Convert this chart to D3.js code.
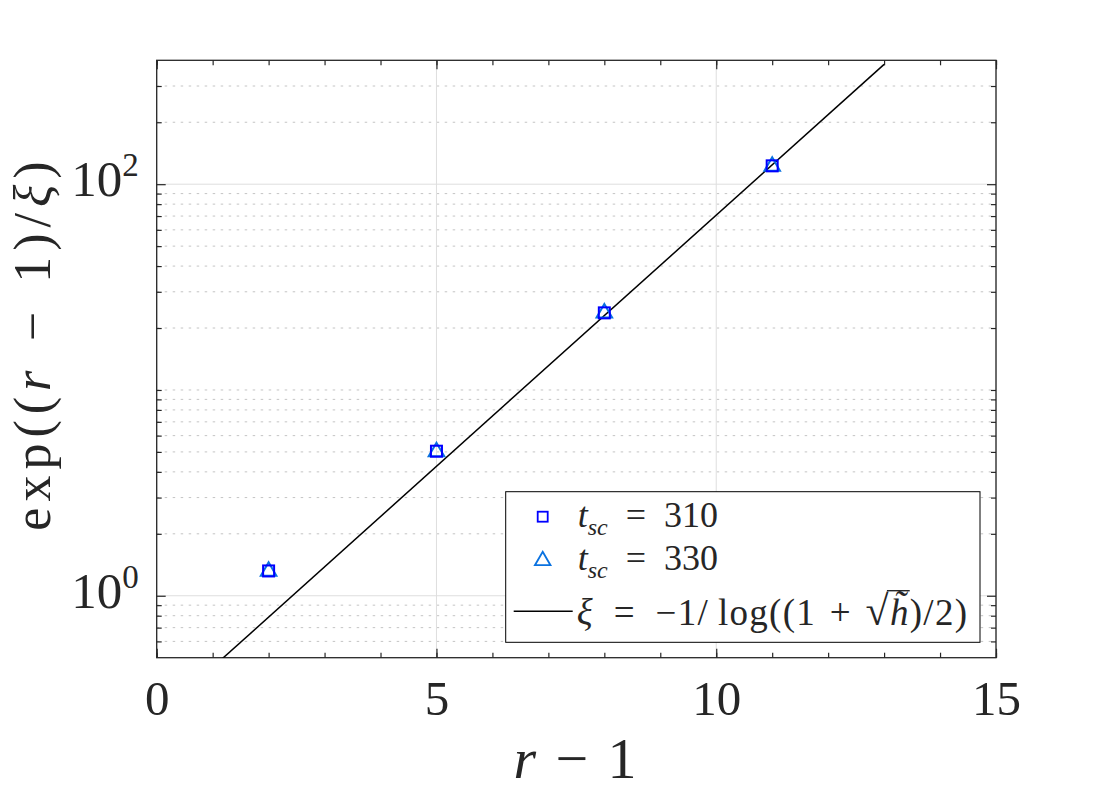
<!DOCTYPE html>
<html>
<head>
<meta charset="utf-8">
<script src="https://cdn.jsdelivr.net/npm/d3@7"></script>
<style>
  body { margin: 0; background: #fff; }
  svg { display: block; }
  text { font-family: "Liberation Serif", "DejaVu Serif", serif; fill: #262626; }
</style>
</head>
<body>
<div id="chart"></div>
<script>
// data
const rMinus1 = [2, 5, 8, 11];
const tsc310 = [1.32, 5.04, 23.7, 122.8];
const tsc330 = [1.33, 5.07, 23.9, 123.5];
const fitX = [1, 13];
const fitY = [0.449, 382];

const xMajorTicks = [0, 5, 10, 15];
const xMinorTicks = d3.range(0, 16);
const yMajorTicks = [1, 100];
const yMajorLabels = [["10", "0"], ["10", "2"]];
const yMinorTicks = [0.6, 0.7, 0.8, 0.9, 2, 3, 4, 5, 6, 7, 8, 9, 10,
  20, 30, 40, 50, 60, 70, 80, 90, 200, 300];

const margin = { top: 60.3, right: 104, bottom: 142.3, left: 156.7 };
const width = 1100 - margin.left - margin.right;
const height = 800 - margin.top - margin.bottom;

const ink = "#262626";
const blue = "#0000ff";
const lightBlue = "#0a72e0";

const EN = "\u2002", THICK = "\u2004", THIN = "\u2009", MINUS = "\u2212";

const svg = d3.select("#chart")
  .append("svg")
  .attr("width", 1100)
  .attr("height", 800);

const g = svg.append("g")
  .attr("transform", `translate(${margin.left},${margin.top})`);

const x = d3.scaleLinear().domain([0, 15]).range([0, width]);
const y = d3.scaleLog().domain([0.5, 400]).range([height, 0]);

g.append("clipPath").attr("id", "plot")
  .append("rect").attr("width", width).attr("height", height);

// grid
g.append("g").selectAll("line")
  .data(yMinorTicks)
  .join("line")
  .attr("x1", 0).attr("x2", width)
  .attr("y1", d => y(d)).attr("y2", d => y(d))
  .attr("stroke", "#c4c4c4")
  .attr("stroke-width", 1)
  .attr("stroke-dasharray", "2.5,5.5");

g.append("g").selectAll("line")
  .data(yMajorTicks)
  .join("line")
  .attr("x1", 0).attr("x2", width)
  .attr("y1", d => y(d)).attr("y2", d => y(d))
  .attr("stroke", "#dedede");

g.append("g").selectAll("line")
  .data(xMajorTicks)
  .join("line")
  .attr("x1", d => x(d)).attr("x2", d => x(d))
  .attr("y1", 0).attr("y2", height)
  .attr("stroke", "#dedede");

// axes, ticks pointing inward on all four sides
function styleAxis(sel) {
  sel.selectAll(".domain").remove();
  sel.selectAll(".tick line").attr("stroke", ink).attr("stroke-width", 1.2);
}

g.append("g")
  .attr("transform", `translate(0,${height})`)
  .call(d3.axisBottom(x).tickValues(xMinorTicks).tickSize(-5).tickFormat(""))
  .call(styleAxis);
g.append("g")
  .call(d3.axisTop(x).tickValues(xMinorTicks).tickSize(-5).tickFormat(""))
  .call(styleAxis);
g.append("g")
  .call(d3.axisTop(x).tickValues(xMajorTicks).tickSize(-9).tickFormat(""))
  .call(styleAxis);

const xAxis = g.append("g")
  .attr("transform", `translate(0,${height})`)
  .call(d3.axisBottom(x).tickValues(xMajorTicks).tickSize(-9).tickPadding(23))
  .call(styleAxis);
xAxis.selectAll("text")
  .style("font-family", '"Liberation Serif", serif')
  .style("font-size", "49px")
  .attr("fill", ink);

g.append("g")
  .call(d3.axisLeft(y).tickValues(yMinorTicks).tickSize(-5).tickFormat(""))
  .call(styleAxis);
g.append("g")
  .call(d3.axisLeft(y).tickValues(yMajorTicks).tickSize(-9).tickFormat(""))
  .call(styleAxis);
g.append("g")
  .attr("transform", `translate(${width},0)`)
  .call(d3.axisRight(y).tickValues(yMinorTicks).tickSize(-5).tickFormat(""))
  .call(styleAxis);
g.append("g")
  .attr("transform", `translate(${width},0)`)
  .call(d3.axisRight(y).tickValues(yMajorTicks).tickSize(-9).tickFormat(""))
  .call(styleAxis);

// y tick labels 10^k
const yLab = g.append("g").selectAll("text")
  .data(yMajorTicks)
  .join("text")
  .attr("x", -18)
  .attr("y", d => y(d) + 12)
  .attr("text-anchor", "end")
  .style("font-size", "51px");
yLab.append("tspan").text((d, i) => yMajorLabels[i][0]);
yLab.append("tspan")
  .attr("dy", -20)
  .style("font-size", "33px")
  .text((d, i) => yMajorLabels[i][1]);

// box
g.append("rect")
  .attr("width", width).attr("height", height)
  .attr("fill", "none")
  .attr("stroke", ink)
  .attr("stroke-width", 1.3);

// fit line
const line = d3.line().x(d => x(d[0])).y(d => y(d[1]));
g.append("path")
  .datum(d3.zip(fitX, fitY))
  .attr("clip-path", "url(#plot)")
  .attr("d", line)
  .attr("fill", "none")
  .attr("stroke", "#000")
  .attr("stroke-width", 1.5);

// markers
const tri = d3.symbol().type(d3.symbolTriangle).size(105);
g.append("g").selectAll("path")
  .data(d3.zip(rMinus1, tsc330))
  .join("path")
  .attr("d", tri)
  .attr("transform", d => `translate(${x(d[0])},${y(d[1]) + 1})`)
  .attr("fill", "none")
  .attr("stroke", lightBlue)
  .attr("stroke-width", 2);

g.append("g").selectAll("rect")
  .data(d3.zip(rMinus1, tsc310))
  .join("rect")
  .attr("x", d => x(d[0]) - 5.5)
  .attr("y", d => y(d[1]) - 5.5)
  .attr("width", 11).attr("height", 11)
  .attr("fill", "none")
  .attr("stroke", blue)
  .attr("stroke-width", 2);

// legend
const legend = svg.append("g").attr("transform", "translate(505.7,491.7)");
legend.append("rect")
  .attr("width", 474.3).attr("height", 150.6)
  .attr("fill", "#fff")
  .attr("stroke", "#000")
  .attr("stroke-width", 1);

legend.append("rect")
  .attr("x", 32).attr("y", 20)
  .attr("width", 10).attr("height", 10)
  .attr("fill", "none").attr("stroke", blue).attr("stroke-width", 1.8);
legend.append("path")
  .attr("d", tri)
  .attr("transform", "translate(37,69)")
  .attr("fill", "none").attr("stroke", lightBlue).attr("stroke-width", 1.8);
legend.append("line")
  .attr("x1", 8).attr("x2", 67)
  .attr("y1", 119.5).attr("y2", 119.5)
  .attr("stroke", "#000").attr("stroke-width", 1.5);

function tscLabel(yy, val) {
  const t = legend.append("text")
    .attr("x", 72).attr("y", yy)
    .style("font-size", "36px");
  t.append("tspan").style("font-style", "italic").text("t");
  t.append("tspan").attr("dy", 8).style("font-style", "italic")
    .style("font-size", "24px").text("sc");
  t.append("tspan").attr("dy", -8).text(EN + "=" + EN + val);
}
tscLabel(35, "310");
tscLabel(78.5, "330");

const f = legend.append("text")
  .attr("x", 71).attr("y", 133)
  .style("font-size", "37px")
  .style("letter-spacing", "1.3px");
f.append("tspan").style("font-style", "italic").text("\u03be");
f.append("tspan").text(EN + "=" + EN + MINUS + "1/" + THIN + "log((1" + THICK + "+" + THICK);
const rad = f.append("tspan").style("font-size", "42px").text("\u221a");
const hh = f.append("tspan").style("font-style", "italic").text("h\u0303");
f.append("tspan").text(")/2)");

// vinculum of the square root, sized from the rendered glyphs
const rb = rad.node().getBBox();
const hb = hh.node().getBBox();
legend.append("line")
  .attr("x1", rb.x + rb.width - 3).attr("x2", hb.x + hb.width)
  .attr("y1", rb.y + 3).attr("y2", rb.y + 3)
  .attr("stroke", ink).attr("stroke-width", 1.4);

// axis labels
const xl = svg.append("text")
  .attr("x", 575)
  .attr("y", 778)
  .attr("text-anchor", "middle")
  .style("font-size", "58px");
xl.append("tspan").style("font-style", "italic").text("r");
xl.append("tspan").text(THICK + MINUS + THICK + "1");

const yl = svg.append("text")
  .attr("transform", `translate(50,343) rotate(-90)`)
  .attr("text-anchor", "middle")
  .style("font-size", "52px")
  .style("letter-spacing", "6px");
yl.append("tspan").text("exp((");
yl.append("tspan").style("font-style", "italic").text("r");
yl.append("tspan").text(THICK + MINUS + THICK + "1)/");
yl.append("tspan").style("font-style", "italic").text("\u03be");
yl.append("tspan").text(")");
</script>
</body>
</html>
